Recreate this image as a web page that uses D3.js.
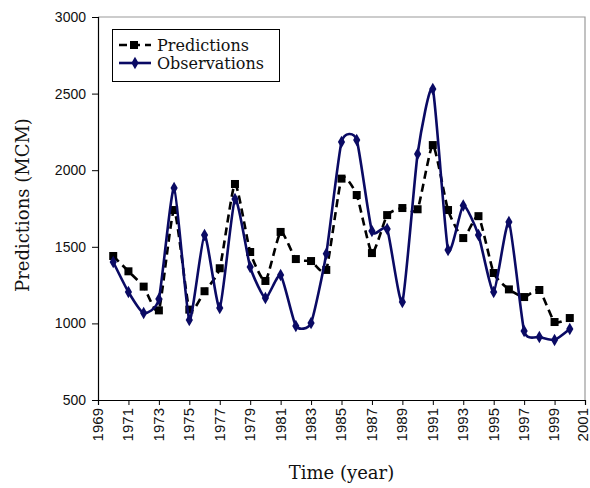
<!DOCTYPE html>
<html>
<head>
<meta charset="utf-8">
<script src="https://cdn.jsdelivr.net/npm/d3@7"></script>
<style>
  body { margin: 0; background: #fff; }
  svg { display: block; font-family: "DejaVu Serif", "Liberation Serif", serif; }
</style>
</head>
<body>
<svg id="chart" width="590" height="488"></svg>
<script>
// data
const years = d3.range(1970, 2001);
const predictions = [1440, 1340, 1240, 1085, 1740, 1090, 1210, 1360, 1910, 1466,
  1277, 1597, 1420, 1407, 1349, 1945, 1838, 1459, 1707, 1753,
  1745, 2164, 1740, 1557, 1700, 1329, 1222, 1172, 1218, 1009, 1035];
const observations = [1401, 1205, 1068, 1159, 1884, 1022, 1577, 1100, 1812, 1368,
  1166, 1316, 983, 1003, 1455, 2184, 2197, 1603, 1616, 1140,
  2106, 2530, 1479, 1770, 1577, 1205, 1662, 950, 911, 892, 963];
const xTicks = d3.range(1969, 2002, 2);
const yTicks = [500, 1000, 1500, 2000, 2500, 3000];

const svg = d3.select("#chart");
const plotLeft = 98, plotRight = 585, plotTop = 17, plotBottom = 400;

const x = d3.scaleLinear().domain([1969, 2001]).range([plotLeft, plotRight]);
const y = d3.scaleLinear().domain([500, 3000]).range([plotBottom, plotTop]);

// plot frame: grey top/right, black axes
svg.append("path")
  .attr("d", `M${plotLeft},${plotTop}H${plotRight}V${plotBottom}`)
  .attr("fill", "none")
  .attr("stroke", "#9a9a9a")
  .attr("stroke-width", 1.2);

const yAxis = svg.append("g")
  .attr("transform", `translate(${plotLeft},0)`)
  .call(d3.axisLeft(y).tickValues(yTicks).tickSize(6).tickPadding(6).tickFormat(d3.format("d")));
yAxis.selectAll("text").attr("font-size", 14).attr("font-family", null).attr("fill", "#111");

const xAxis = svg.append("g")
  .attr("transform", `translate(0,${plotBottom})`)
  .call(d3.axisBottom(x).tickValues(xTicks).tickSize(5).tickFormat(d3.format("d")));
xAxis.selectAll("text")
  .attr("font-size", 15)
  .attr("font-family", null)
  .attr("fill", "#111")
  .attr("transform", "rotate(-90)")
  .attr("text-anchor", "end")
  .attr("x", -8)
  .attr("y", d => d === 2001 ? -3 : -1)
  .attr("dy", "0.36em");

svg.selectAll(".domain").attr("stroke", "#000").attr("stroke-width", 1.2);
svg.selectAll(".tick line").attr("stroke", "#000");

// axis titles
svg.append("text")
  .attr("x", (plotLeft + plotRight) / 2)
  .attr("y", 479)
  .attr("text-anchor", "middle")
  .attr("font-size", 18)
  .attr("fill", "#111")
  .text("Time (year)");

svg.append("text")
  .attr("transform", "translate(29,205) rotate(-90)")
  .attr("text-anchor", "middle")
  .attr("font-size", 18)
  .attr("fill", "#111")
  .text("Predictions (MCM)");

// series
const curve = d3.curveCardinal.tension(0.45);
const line = d3.line().curve(curve).x(d => x(d[0])).y(d => y(d[1]));

const predPts = years.map((yr, i) => [yr, predictions[i]]);
const obsPts = years.map((yr, i) => [yr, observations[i]]);

svg.append("path")
  .attr("d", line(predPts))
  .attr("fill", "none")
  .attr("stroke", "#000")
  .attr("stroke-width", 2.6)
  .attr("stroke-dasharray", "8,5");

svg.append("g").selectAll("rect")
  .data(predPts)
  .join("rect")
  .attr("x", d => x(d[0]) - 4)
  .attr("y", d => y(d[1]) - 4)
  .attr("width", 8)
  .attr("height", 8)
  .attr("fill", "#000");

const navy = "#0a0a64";
svg.append("path")
  .attr("d", line(obsPts))
  .attr("fill", "none")
  .attr("stroke", navy)
  .attr("stroke-width", 2.6);

const diamond = d3.symbol().type(d3.symbolDiamond).size(45);
svg.append("g").selectAll("path")
  .data(obsPts)
  .join("path")
  .attr("transform", d => `translate(${x(d[0])},${y(d[1])})`)
  .attr("d", diamond)
  .attr("fill", navy);

// legend
const legend = svg.append("g");
legend.append("rect")
  .attr("x", 112.5).attr("y", 29.5)
  .attr("width", 167).attr("height", 52)
  .attr("fill", "#fff")
  .attr("stroke", "#000")
  .attr("stroke-width", 1);

legend.append("line")
  .attr("x1", 119).attr("x2", 151).attr("y1", 45).attr("y2", 45)
  .attr("stroke", "#000").attr("stroke-width", 2.6)
  .attr("stroke-dasharray", "8,5");
legend.append("rect")
  .attr("x", 130).attr("y", 41).attr("width", 8).attr("height", 8)
  .attr("fill", "#000");
legend.append("text")
  .attr("x", 157).attr("y", 45).attr("dy", "0.35em")
  .attr("font-size", 16).attr("fill", "#111")
  .text("Predictions");

legend.append("line")
  .attr("x1", 119).attr("x2", 151).attr("y1", 63).attr("y2", 63)
  .attr("stroke", navy).attr("stroke-width", 2.6);
legend.append("path")
  .attr("transform", "translate(135,63)")
  .attr("d", diamond)
  .attr("fill", navy);
legend.append("text")
  .attr("x", 157).attr("y", 63).attr("dy", "0.35em")
  .attr("font-size", 16).attr("fill", "#111")
  .text("Observations");
</script>
</body>
</html>
